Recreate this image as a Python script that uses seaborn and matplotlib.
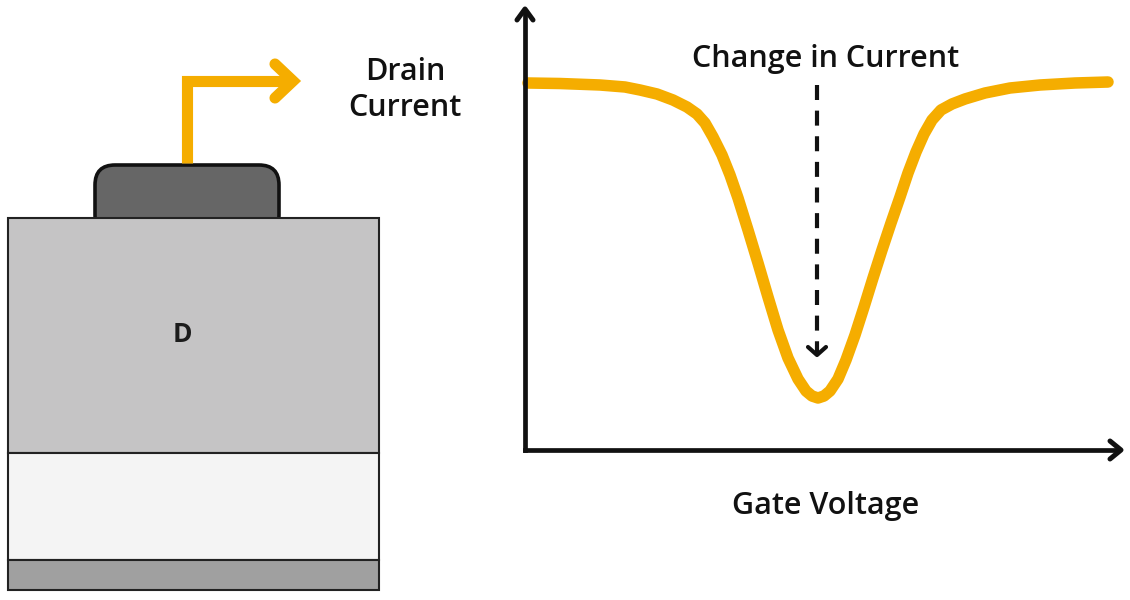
import matplotlib
matplotlib.use("Agg")
import matplotlib.pyplot as plt
import pandas as pd
import seaborn as sns
from matplotlib.patches import FancyBboxPatch, Rectangle

# Curve (arbitrary units, origin at the axes corner)
gate_voltage = [3, 35, 75, 100, 115, 132, 148, 162, 172, 180, 188, 197, 205, 213, 223, 233,
                243, 253, 263, 273, 281, 287, 293, 299, 305, 313, 321, 330, 339, 348, 357,
                366, 375, 383, 391, 399, 407, 416, 427, 440, 460, 485, 515, 550, 583]
drain_current = [367, 366.5, 365, 363, 360, 356, 350, 343, 336, 327, 313, 295, 275, 252, 220, 187,
                 153, 120, 92, 71, 59, 54, 52, 54, 59, 71, 90, 115, 143, 172, 200,
                 227, 253, 277, 298, 316, 330, 340, 346, 351, 357, 362, 365, 367, 368]

# Device stack, top and bottom edge of each layer
layer_tops = [218, 453, 560]
layer_bottoms = [453, 560, 590]
layer_colors = ["#c5c4c5", "#f4f4f4", "#a0a0a0"]

x_label = "Gate Voltage"
y_label = "Change in Current"
drain_label = "Drain\nCurrent"
device_label = "D"

YELLOW = "#f5ad00"
INK = "#111111"
FONT = "Open Sans"

sns.set_theme(style="white")
plt.rcParams["font.family"] = [FONT, "DejaVu Sans"]

fig = plt.figure(figsize=(11.3, 6), dpi=100, facecolor="white")

# Left side: the device, in a pixel sized axes
ax_dev = fig.add_axes([0, 0, 1, 1])
ax_dev.set_xlim(0, 1130)
ax_dev.set_ylim(600, 0)
ax_dev.axis("off")

gate = FancyBboxPatch((95, 165), 184, 70, boxstyle="round,pad=0,rounding_size=20",
                      facecolor="#666666", edgecolor=INK, linewidth=2.6, zorder=1)
ax_dev.add_patch(gate)
for top, bottom, color in zip(layer_tops, layer_bottoms, layer_colors):
    ax_dev.add_patch(Rectangle((7.5, top), 371, bottom - top, facecolor=color,
                               edgecolor="#222222", linewidth=1.5, zorder=2))

ax_dev.plot([187, 187, 290], [163, 81, 81], color=YELLOW, lw=8, solid_joinstyle="miter",
            solid_capstyle="butt", zorder=3)
ax_dev.plot([275, 293, 275], [64, 81, 98], color=YELLOW, lw=8, solid_joinstyle="miter",
            solid_capstyle="round", zorder=3)

ax_dev.text(405, 90, drain_label, ha="center", va="center", fontsize=22, weight="semibold",
            color=INK, linespacing=1.24)
ax_dev.text(182, 335, device_label, ha="center", va="center", fontsize=19, weight="bold", color="#1c1c1c")
ax_dev.text(826, 59, y_label, ha="center", va="center", fontsize=22, weight="semibold", color=INK)
ax_dev.text(826, 506, x_label, ha="center", va="center", fontsize=22, weight="semibold", color=INK)

# Right side: the curve
ax = fig.add_axes([525 / 1130, 150 / 600, 595 / 1130, 442 / 600])
ax.set_xlim(0, 595)
ax.set_ylim(0, 442)
ax.patch.set_alpha(0)
df = pd.DataFrame({"gate_voltage": gate_voltage, "drain_current": drain_current})
sns.lineplot(data=df, x="gate_voltage", y="drain_current", sort=False, estimator=None, ax=ax,
             color=YELLOW, lw=8.3, solid_capstyle="round", solid_joinstyle="round", clip_on=False)
ax.set_xlabel("")
ax.set_ylabel("")
ax.set_xticks([])
ax.set_yticks([])
sns.despine(ax=ax, left=True, bottom=True)

# Axis lines and arrow heads
ax.plot([0, 0], [0, 438], color=INK, lw=3.4, solid_capstyle="projecting", clip_on=False)
ax.plot([0, 593], [0, 0], color=INK, lw=3.4, solid_capstyle="projecting", clip_on=False)
ax.plot([-8, 0, 8], [430, 441, 430], color=INK, lw=3.6, solid_capstyle="round", clip_on=False)
ax.plot([585, 596, 585], [9, 0, -9], color=INK, lw=3.6, solid_capstyle="round", clip_on=False)

# Dashed arrow
ax.plot([292, 292], [365, 96], color=INK, lw=3, dashes=(3.6, 2.55), dash_capstyle="butt", clip_on=False)
ax.plot([283, 292, 301], [103, 95, 103], color=INK, lw=3, solid_capstyle="round", clip_on=False)

fig.savefig("out.png", dpi=100)
